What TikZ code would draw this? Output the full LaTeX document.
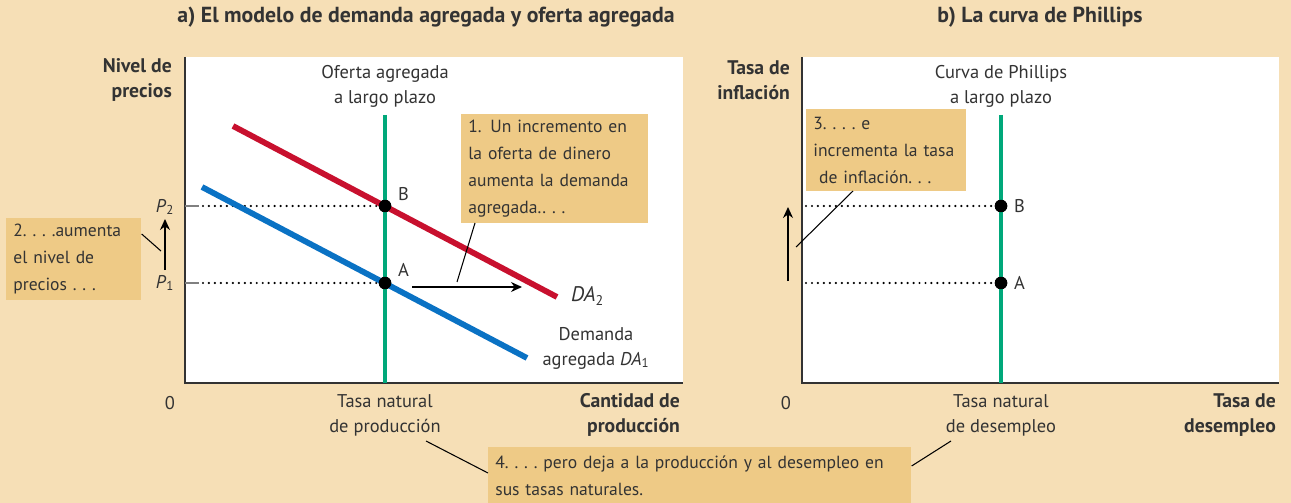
\documentclass[tikz,border=0pt]{standalone}
\usepackage{fontspec}
\setmainfont{PT Sans}
\usepackage{tikz}
\usetikzlibrary{arrows.meta,positioning}
\definecolor{paperbg}{HTML}{F6DFB6}
\definecolor{calloutfill}{HTML}{EECA86}
\definecolor{adred}{HTML}{C8102E}
\definecolor{adblue}{HTML}{0A72C4}
\definecolor{lrgreen}{HTML}{00A87A}
\definecolor{inkgray}{HTML}{333333}
\tikzset{
  plotbox/.style={fill=white, draw=none},
  axisline/.style={draw=inkgray, line width=0.9pt},
  curvered/.style={draw=adred, line width=3.3pt},
  curveblue/.style={draw=adblue, line width=3.3pt},
  lrline/.style={draw=lrgreen, line width=2.8pt},
  guide/.style={draw=black, line width=1.4pt, line cap=round, dash pattern=on 0pt off 3.4pt},
  tickmark/.style={draw=gray, line width=0.9pt},
  eqdot/.style={circle, fill=black, inner sep=0pt, minimum size=0.25cm},
  axlabel/.style={font=\fontsize{11.2}{14.2}\selectfont\bfseries, align=right, text=inkgray},
  plainlabel/.style={font=\fontsize{10.5}{14.2}\selectfont, align=center, text=inkgray},
  titlelabel/.style={font=\fontsize{12.4}{14}\selectfont\bfseries, text=inkgray},
  callout/.style={fill=calloutfill, align=left, anchor=north west, inner xsep=0.14cm,
    inner ysep=0.12cm, font=\fontsize{10}{15.3}\selectfont, text=inkgray},
  pointer/.style={draw=black, line width=0.6pt},
  shiftarrow/.style={-{Stealth[length=2.2mm, width=2mm]}, draw=black, line width=0.8pt}
}
\begin{document}
\hyphenpenalty=10000
\begin{tikzpicture}[x=0.02cm, y=-0.02cm]
\useasboundingbox (0,0) rectangle (1291,503);
\fill[paperbg] (0,0) rectangle (1291,503);

% titles
\node[titlelabel] (titA) at (426,17) {a) El modelo de demanda agregada y oferta agregada};
\node[titlelabel] (titB) at (1040,17) {b) La curva de Phillips};

% panel a
\fill[plotbox] (185,57) rectangle (683,383);
\draw[axisline] (185,57) -- (185,383) -- (683,383);
\draw[tickmark] (185,206) -- (199,206);
\draw[tickmark] (185,283) -- (199,283);
\node[eqdot] (ptB) at (385,206) {};
\node[eqdot] (ptA) at (385,283) {};
\draw[guide] (203,206) -- (ptB);
\draw[guide] (203,283) -- (ptA);
\draw[lrline] (385,115) -- (385,383);
\coordinate (daTwoS) at (233,126);
\coordinate (daTwoE) at (557,297);
\coordinate (daOneS) at (202,187);
\coordinate (daOneE) at (527,358);
\draw[curvered] (daTwoS) -- (daTwoE);
\draw[curveblue] (daOneS) -- (daOneE);
\node[eqdot] at (ptB) {};
\node[eqdot] at (ptA) {};
\node[plainlabel, anchor=west] (lblB) at (392,194) {B};
\node[plainlabel, anchor=west] (lblA) at (392,270) {A};
\node[plainlabel] (lrasLbl) at (385,86) {Oferta agregada\\a largo plazo};
\node[plainlabel, anchor=west, font=\fontsize{12}{14}\selectfont] (daTwoLbl) at (565,296) {\textit{DA}\textsubscript{2}};
\node[plainlabel] (daOneLbl) at (596,348) {Demanda\\agregada \textit{DA}\textsubscript{1}};
\coordinate (shiftS) at (412,287);
\coordinate (shiftE) at (522,287);
\draw[shiftarrow] (shiftS) -- (shiftE);

\node[axlabel, anchor=east] (yLblA) at (178,80) {Nivel de\\precios};
\node[plainlabel] (pTwo) at (165,207) {\textit{P}\textsubscript{2}};
\node[plainlabel] (pOne) at (165,283) {\textit{P}\textsubscript{1}};
\coordinate (upS) at (165,270);
\coordinate (upE) at (165,219);
\draw[shiftarrow] (upS) -- (upE);
\node[plainlabel] (zeroA) at (170,403) {0};
\node[plainlabel] (natProd) at (385,415) {Tasa natural\\de producción};
\node[axlabel, anchor=east] (xLblA) at (686,415) {Cantidad de\\producción};

% panel b
\fill[plotbox] (802,57) rectangle (1279,383);
\draw[axisline] (802,57) -- (802,383) -- (1279,383);
\node[eqdot] (phB) at (1001,206) {};
\node[eqdot] (phA) at (1001,283) {};
\draw[guide] (806,206) -- (phB);
\draw[guide] (806,283) -- (phA);
\draw[lrline] (1001,115) -- (1001,383);
\node[eqdot] at (phB) {};
\node[eqdot] at (phA) {};
\node[plainlabel, anchor=west] (phLblB) at (1008,206) {B};
\node[plainlabel, anchor=west] (phLblA) at (1008,283) {A};
\node[plainlabel] (lrpcLbl) at (1001,86) {Curva de Phillips\\a largo plazo};
\node[axlabel, anchor=east] (yLblB) at (796,80) {Tasa de\\inflación};
\coordinate (infS) at (788,281);
\coordinate (infE) at (788,207);
\draw[shiftarrow] (infS) -- (infE);
\node[plainlabel] (zeroB) at (786,403) {0};
\node[plainlabel] (natUnemp) at (1001,415) {Tasa natural\\de desempleo};
\node[axlabel, anchor=east] (xLblB) at (1282,415) {Tasa de\\desempleo};

% callouts
\node[callout, text width=3.46cm, minimum height=2.18cm] (bxUno) at (461,114)
  {1. Un incremento en\\la oferta de dinero\\aumenta la demanda\\agregada..~.~.};
\node[callout, text width=2.42cm, minimum height=1.62cm] (bxDos) at (6,218)
  {2.~.~.~.aumenta\\el nivel de\\precios~.~.~.};
\node[callout, text width=2.92cm, minimum height=1.64cm] (bxTres) at (806,109)
  {3.~.~.~.~e\\incrementa la tasa\\\ de inflación.~.~.};
\node[callout, text width=8.18cm, minimum height=1.12cm] (bxCuatro) at (488,447)
  {4.~.~.~.~pero deja a la producción y al desempleo en\\sus tasas naturales.};

\coordinate (ptrUno) at (457,282);
\coordinate (ptrDos) at (161,251);
\coordinate (ptrTres) at (796,247);
\coordinate (ptrCuatroL) at (426,441);
\coordinate (ptrCuatroR) at (951,441);
\draw[pointer] (475,223) -- (ptrUno);
\draw[pointer] (bxDos.east |- 0,234) -- (ptrDos);
\draw[pointer] (853,191) -- (ptrTres);
\draw[pointer] (bxCuatro.west |- 0,473) -- (ptrCuatroL);
\draw[pointer] (bxCuatro.east |- 0,466) -- (ptrCuatroR);
\end{tikzpicture}
\end{document}
